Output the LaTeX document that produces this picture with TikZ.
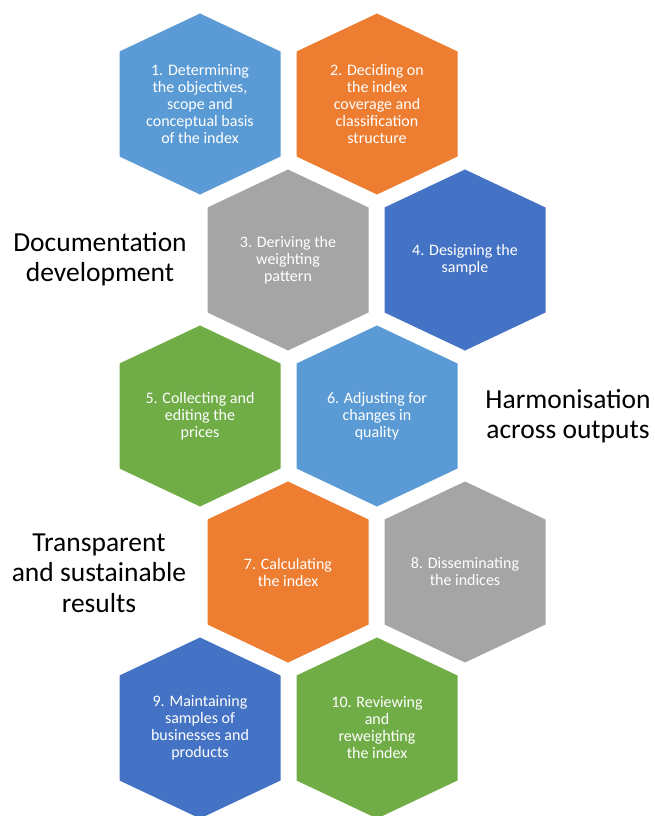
\documentclass[tikz,border=0pt]{standalone}
\usepackage{xcolor}
\usepackage{fontspec}
\setmainfont{Carlito}
\usepackage{tikz}

\definecolor{cellblue}{HTML}{5B9BD5}
\definecolor{cellorange}{HTML}{ED7D31}
\definecolor{cellgray}{HTML}{A5A5A5}
\definecolor{celldarkblue}{HTML}{4472C4}
\definecolor{cellgreen}{HTML}{70AD47}

\tikzset{
    hexcell/.pic={\fill (0,-90.5) -- (80.5,-52.5) -- (80.5,52.5) -- (0,90.5) -- (-80.5,52.5) -- (-80.5,-52.5) -- cycle;},
    cell text/.style={text=white, align=center, inner sep=0pt, font=\fontsize{16}{17}\selectfont},
    side text/.style={text=black, align=center, inner sep=0pt, font=\fontsize{27.5}{30.5}\selectfont},
}

\begin{document}
\begin{tikzpicture}[x=1pt, y=-1pt]
        \useasboundingbox (0,0) rectangle (655,816);
        \pic[fill=cellblue]     at (200,104) {hexcell};
        \pic[fill=cellorange]   at (377,104) {hexcell};
        \pic[fill=cellgray]     at (288,260) {hexcell};
        \pic[fill=celldarkblue] at (465,260) {hexcell};
        \pic[fill=cellgreen]    at (200,416) {hexcell};
        \pic[fill=cellblue]     at (377,416) {hexcell};
        \pic[fill=cellorange]   at (288,572) {hexcell};
        \pic[fill=cellgray]     at (465,572) {hexcell};
        \pic[fill=celldarkblue] at (200,728) {hexcell};
        \pic[fill=cellgreen]    at (377,728) {hexcell};
        \node[cell text] (step-1)  at (200,104) {1. Determining\\the objectives,\\scope and\\conceptual basis\\of the index};
        \node[cell text] (step-2)  at (377,104) {2. Deciding on\\the index\\coverage and\\classification\\structure};
        \node[cell text] (step-3)  at (288,260) {3. Deriving the\\weighting\\pattern};
        \node[cell text] (step-4)  at (465,260) {4. Designing the\\sample};
        \node[cell text] (step-5)  at (200,416) {5. Collecting and\\editing the\\prices};
        \node[cell text] (step-6)  at (377,416) {6. Adjusting for\\changes in\\quality};
        \node[cell text] (step-7)  at (288,572) {7. Calculating\\the index};
        \node[cell text] (step-8)  at (465,572) {8. Disseminating\\the indices};
        \node[cell text] (step-9)  at (200,728) {9. Maintaining\\samples of\\businesses and\\products};
        \node[cell text] (step-10) at (377,728) {10. Reviewing\\and\\reweighting\\the index};
        \node[side text] (doc-label)   at (100,259) {Documentation\\development};
        \node[side text] (harm-label)  at (568,416) {Harmonisation\\across outputs};
        \node[side text] (trans-label) at (99,573)  {Transparent\\and sustainable\\results};
    \end{tikzpicture}
\end{document}
